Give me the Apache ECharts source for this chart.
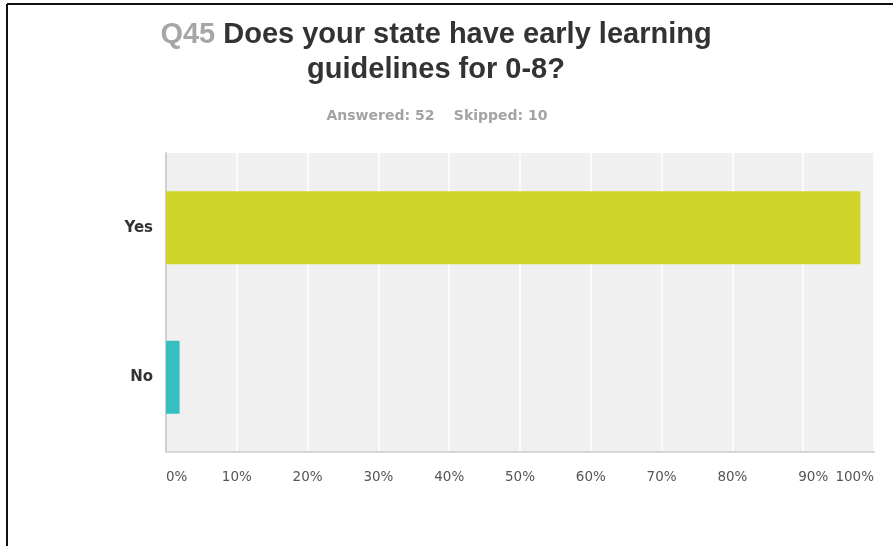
<!DOCTYPE html>
<html>
<head>
<meta charset="utf-8">
<script src="https://cdn.jsdelivr.net/npm/echarts@6/dist/echarts.min.js"></script>
<style>
  html, body { margin: 0; padding: 0; background: #fff; }
  #chart { width: 893px; height: 546px; }
</style>
</head>
<body>
<div id="chart"></div>
<script>
// Survey question and response summary
const questionNumber = 'Q45';
const questionLine1 = 'Does your state have early learning';
const questionLine2 = 'guidelines for 0-8?';
const answeredCount = 52;
const skippedCount = 10;

// Answer choices and share of respondents (%)
const categories = ['Yes', 'No'];
const percentages = [98.08, 1.92];
const barColors = ['#cfd42a', '#35bfbf'];

// Percentage axis
const axisMin = 0;
const axisMax = 100;
const axisStep = 10;

const chart = echarts.init(document.getElementById('chart'));

chart.setOption({
  animation: false,
  backgroundColor: '#ffffff',
  title: [
    {
      text: '{q|' + questionNumber + '}{t| ' + questionLine1 + '}\n{t|' + questionLine2 + '}',
      left: 431,
      top: 12,
      textAlign: 'center',
      textStyle: {
        align: 'center',
        lineHeight: 35,
        rich: {
          q: { fontFamily: 'Liberation Sans', fontWeight: 'bold', fontSize: 29, color: '#a6a6a6', lineHeight: 35 },
          t: { fontFamily: 'Liberation Sans', fontWeight: 'bold', fontSize: 29, color: '#333333', lineHeight: 35 }
        }
      }
    },
    {
      text: 'Answered: ' + answeredCount + '    Skipped: ' + skippedCount,
      left: 432,
      top: 104,
      textAlign: 'center',
      textStyle: {
        fontFamily: 'DejaVu Sans',
        fontWeight: 'bold',
        fontSize: 14,
        color: '#a3a3a3'
      }
    }
  ],
  graphic: [
    {
      type: 'line',
      shape: { x1: 7, y1: 4, x2: 893, y2: 4 },
      style: { stroke: '#111111', lineWidth: 2 }
    },
    {
      type: 'line',
      shape: { x1: 7, y1: 4, x2: 7, y2: 546 },
      style: { stroke: '#111111', lineWidth: 2 }
    }
  ],
  grid: {
    left: 166,
    right: 19,
    top: 153,
    bottom: 94,
    show: true,
    backgroundColor: '#f0f0f0',
    borderWidth: 0,
    containLabel: false
  },
  xAxis: {
    type: 'value',
    min: axisMin,
    max: axisMax,
    interval: axisStep,
    axisLine: { show: true, lineStyle: { color: '#d6d6d6', width: 2 } },
    axisTick: { show: false },
    splitLine: { show: true, lineStyle: { color: '#ffffff', width: 1.5 } },
    axisLabel: {
      margin: 18,
      fontFamily: 'DejaVu Sans',
      fontSize: 13.5,
      color: '#555555',
      alignMinLabel: 'left',
      alignMaxLabel: 'right',
      formatter: function (v) {
        return v === 90 ? '{s|' + v + '%}' : v + '%';
      },
      rich: {
        s: { fontFamily: 'DejaVu Sans', fontSize: 13.5, color: '#555555', padding: [0, 0, 0, 20] }
      }
    }
  },
  yAxis: {
    type: 'category',
    data: categories,
    inverse: true,
    axisLine: { show: true, lineStyle: { color: '#d0d0d0', width: 2 } },
    axisTick: { show: false },
    axisLabel: {
      margin: 13,
      fontFamily: 'DejaVu Sans',
      fontWeight: 'bold',
      fontSize: 15,
      color: '#333333'
    }
  },
  series: [
    {
      type: 'bar',
      barWidth: 73,
      data: percentages.map(function (v, i) {
        return { value: v, itemStyle: { color: barColors[i] } };
      }),
      itemStyle: { borderWidth: 0 }
    }
  ]
});
</script>
</body>
</html>
